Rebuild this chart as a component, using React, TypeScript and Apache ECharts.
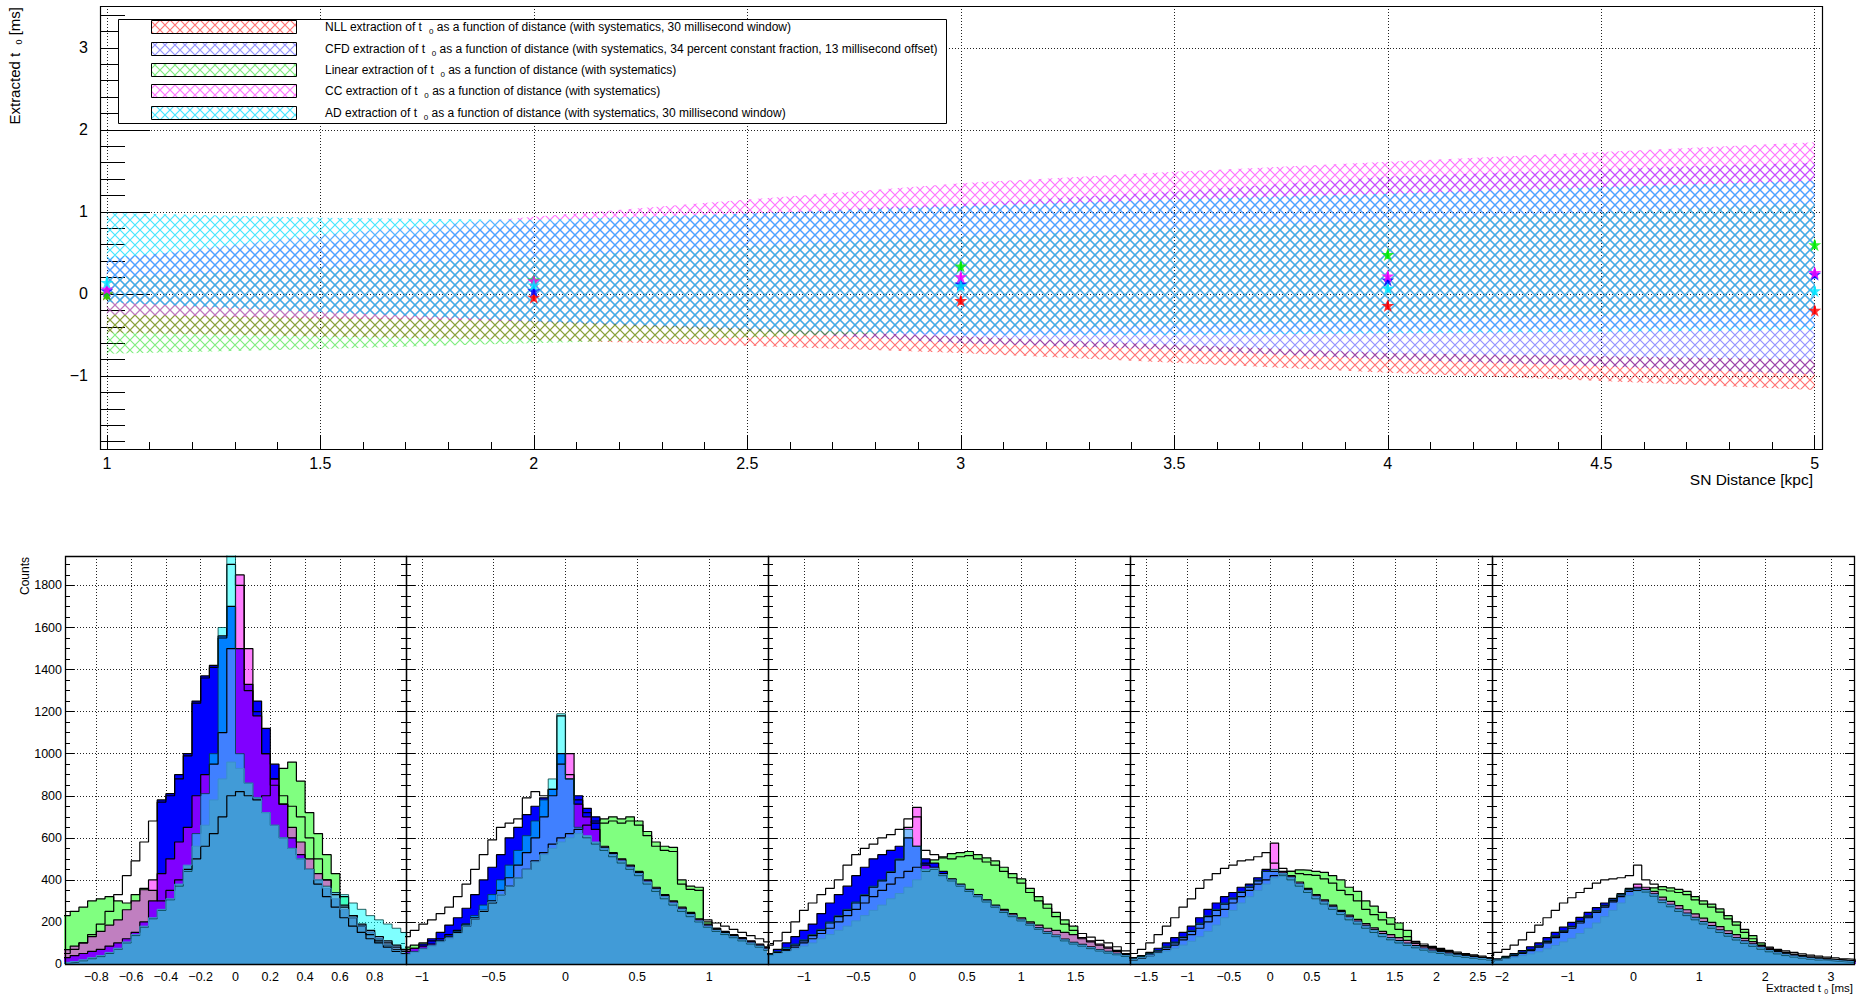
import React, { useEffect, useRef } from "react";
import * as echarts from "echarts";

// ---------------- top panel: bands (x = SN distance, kpc) ----------------
const bandX = [1, 1.5, 2, 2.5, 3, 3.5, 4, 4.5, 5];
const nllLow = [-0.47, -0.52, -0.56, -0.63, -0.72, -0.84, -0.96, -1.06, -1.17];
const nllHigh = [-0.25, -0.28, -0.32, -0.42, -0.52, -0.62, -0.72, -0.76, -0.8];
const cfdLow = [-0.1, -0.22, -0.34, -0.45, -0.6, -0.68, -0.8, -0.88, -0.98];
const cfdHigh = [0.45, 0.62, 0.85, 0.98, 1.1, 1.25, 1.43, 1.52, 1.6];
const linLow = [-0.73, -0.67, -0.6, -0.53, -0.45, -0.38, -0.32, -0.26, -0.2];
const linHigh = [0.2, 0.32, 0.45, 0.58, 0.7, 0.8, 0.9, 1.0, 1.1];
const ccLow = [-0.25, -0.3, -0.33, -0.42, -0.5, -0.48, -0.45, -0.42, -0.4];
const ccHigh = [0.42, 0.72, 0.94, 1.15, 1.35, 1.49, 1.61, 1.73, 1.85];
const adLow = [-0.1, -0.22, -0.33, -0.42, -0.5, -0.5, -0.48, -0.46, -0.44];
const adHigh = [0.99, 0.93, 0.9, 0.98, 1.07, 1.15, 1.22, 1.3, 1.38];

// ---------------- top panel: extracted points ----------------
const pointX = [1, 2, 3, 4, 5];
const nllPoints = [0.0, -0.04, -0.08, -0.14, -0.2];
const cfdPoints = [0.04, 0.04, 0.12, 0.17, 0.24];
const linPoints = [0.0, 0.17, 0.34, 0.48, 0.6];
const ccPoints = [0.06, 0.16, 0.21, 0.22, 0.26];
const adPoints = [0.14, 0.11, 0.1, 0.07, 0.04];
const pointErr = [0.07, 0.05, 0.05, 0.05, 0.05];

// ---------------- bottom panels: histograms ----------------
const padRanges = [[-0.98, 0.98], [-1.11, 1.41], [-1.33, 2.0], [-1.69, 2.67], [-2.15, 3.35]];
const padSplit = [10, 5, 7, 9, 5];
const padStart = [-1.0, -1.14, -1.36, -1.7, -2.25];
const padBin = [0.05, 0.06, 0.08, 0.1, 0.125];
const countsMax = 1940;

const pad1White = [50,70,100,140,190,250,330,420,490,580,680,770,800,880,990,1240,1360,1410,1550,1900,1800,1300,1200,1000,850,800,750,700,600,500,400,330,270,220,180,150,120,100,80,60];
const pad1Green = [230,250,270,300,310,320,300,290,330,360,350,300,350,400,450,500,560,620,700,800,820,800,780,800,880,930,960,870,720,620,520,430,320,230,180,140,110,90,70,60];
const pad1Blue = [30,40,50,60,70,85,100,120,150,200,300,780,810,900,1000,1250,1370,1420,1560,1700,1500,1330,1250,1120,950,760,600,520,450,380,320,270,220,180,150,120,100,80,60,50];
const pad1Magenta = [68,85,100,130,155,185,210,258,300,353,400,430,500,580,650,800,900,950,1100,1500,1850,1500,1180,1000,880,760,650,580,500,430,400,340,280,230,190,160,130,110,90,70];
const pad1Cyan = [5,8,15,25,35,50,70,100,135,175,215,255,305,370,440,620,810,1000,1600,2100,1000,860,790,720,660,600,550,500,450,400,370,340,330,290,260,230,210,190,170,150];
const pad1Steel = [8,12,20,30,40,55,75,105,140,180,220,260,310,380,470,560,660,780,880,960,930,860,790,720,660,600,550,500,450,400,360,310,260,220,180,150,120,90,65,45];

const pad2White = [130,160,190,210,240,270,320,380,450,520,590,650,670,690,790,820,800,830,1180,900,780,720,670,670,680,670,680,660,610,560,540,535,380,355,350,210,195,180,165,150,135,120,105];
const pad2Green = [80,90,100,110,120,140,160,190,220,250,290,330,370,410,450,490,530,570,600,620,640,660,680,690,700,690,700,680,630,580,560,555,400,370,365,200,170,150,135,120,105,90,80];
const pad2Blue = [60,75,95,120,150,185,220,265,330,400,460,520,600,650,710,750,790,830,1000,880,800,740,700,555,525,495,465,435,395,360,325,295,265,240,210,185,165,150,135,120,105,90,75];
const pad2Magenta = [70,75,85,95,110,130,150,180,215,255,300,350,410,470,530,600,700,800,950,1000,760,700,640,560,530,500,470,440,400,365,330,300,270,245,215,190,170,155,140,125,110,95,80];
const pad2Cyan = [50,60,75,90,110,130,155,190,230,280,330,400,470,540,610,680,780,880,1190,880,650,600,570,540,510,480,450,420,380,345,310,280,250,225,200,175,155,140,125,110,95,80,65];
const pad2Steel = [45,55,70,85,105,120,145,180,215,255,295,330,370,410,450,485,520,550,580,600,620,610,580,550,520,490,460,430,390,355,320,290,260,235,205,180,160,145,130,115,100,85,70];

const pad3White = [90,110,150,200,255,290,330,360,400,470,520,550,570,600,615,640,690,700,540,520,505,500,510,515,500,485,470,440,410,385,340,300,265,225,190,160,145,128,112,100,82,62];
const pad3Green = [45,55,65,80,100,120,145,170,200,230,260,290,320,350,380,410,440,460,480,495,510,525,530,535,520,505,490,460,430,405,360,320,285,245,210,180,120,105,90,75,60,45];
const pad3Blue = [50,70,100,130,160,190,240,290,330,370,420,460,500,520,540,560,600,560,500,480,440,403,378,353,328,303,278,253,233,213,193,173,153,138,118,103,93,81,69,60,51,43];
const pad3Magenta = [50,55,70,90,110,135,160,195,225,255,290,325,365,395,435,495,650,745,470,460,430,405,380,355,330,305,280,260,240,220,200,185,170,160,150,140,125,110,95,80,65,50];
const pad3Cyan = [45,60,78,95,115,140,165,200,230,260,295,330,370,400,440,500,640,560,440,450,420,395,370,345,320,295,270,245,225,205,185,165,145,130,110,95,85,73,62,52,44,36];
const pad3Steel = [40,50,60,72,85,100,120,140,160,180,205,230,255,280,310,335,365,400,450,455,425,400,375,350,325,300,275,250,230,210,190,170,150,135,115,100,90,78,66,57,48,40];

const pad4White = [50,70,100,140,180,220,270,310,360,400,430,455,470,490,495,510,530,480,455,440,430,425,421,405,385,350,330,300,260,235,210,190,165,130,108,95,84,74,65,57,50,43,37,31];
const pad4Green = [20,28,40,55,70,90,115,140,170,200,230,260,290,320,350,380,400,420,430,440,448,445,440,436,420,400,365,345,300,275,245,220,195,160,98,85,75,65,57,50,43,37,31,26];
const pad4Blue = [30,40,55,75,100,125,150,180,220,260,290,320,340,365,380,410,450,440,434,414,384,354,324,299,274,249,224,204,184,164,144,126,111,99,87,76,66,59,52,46,40,34,30,26];
const pad4Magenta = [28,35,48,62,80,100,125,155,190,225,255,285,310,340,365,395,440,575,440,420,390,360,330,305,280,255,232,212,192,172,155,140,125,112,100,88,78,68,60,52,45,38,32,27];
const pad4Cyan = [25,35,50,65,85,105,130,160,195,230,260,290,315,345,370,400,440,450,420,400,370,340,310,285,260,235,210,190,170,150,130,115,100,88,77,66,57,50,43,37,32,27,23,19];
const pad4Steel = [22,30,40,52,62,75,90,108,130,155,185,220,255,290,320,350,380,410,430,410,380,350,320,295,270,245,220,200,180,160,140,122,107,95,83,72,62,55,48,42,36,30,26,22];

const pad5White = [40,55,70,90,115,150,185,220,255,290,315,340,360,385,400,405,410,420,470,400,380,353,347,340,330,305,285,270,247,215,185,150,120,88,80,70,62,55,48,42,37,33,29,25,22];
const pad5Green = [10,18,28,40,50,64,80,100,125,150,170,195,220,245,270,295,320,345,350,355,362,368,362,355,345,320,300,285,262,230,200,165,135,100,72,60,52,44,37,31,27,23,19,16,13];
const pad5Blue = [16,25,36,50,64,82,100,125,150,175,198,222,245,268,290,312,335,360,365,354,334,304,284,262,242,222,202,182,162,144,126,110,96,82,68,58,50,42,36,31,27,23,20,17,15];
const pad5Magenta = [12,20,30,42,54,68,86,108,133,156,178,203,228,253,278,303,328,353,380,365,345,318,298,278,258,238,218,198,178,158,140,122,106,90,76,64,55,47,40,34,29,25,21,18,15];
const pad5Cyan = [14,22,32,44,56,70,88,110,135,158,180,205,230,255,280,305,330,355,360,342,322,292,272,250,230,210,190,170,150,132,114,98,84,70,58,48,40,33,28,23,19,16,13,10,8];
const pad5Steel = [12,18,24,32,40,48,58,72,88,105,122,145,170,195,225,255,290,325,345,350,330,300,280,258,238,218,198,178,158,140,122,106,92,78,64,54,46,38,32,27,23,19,16,13,11];

const padLayers = [
  [pad1White, pad1Green, pad1Blue, pad1Magenta, pad1Cyan, pad1Steel],
  [pad2White, pad2Green, pad2Blue, pad2Magenta, pad2Cyan, pad2Steel],
  [pad3White, pad3Green, pad3Blue, pad3Magenta, pad3Cyan, pad3Steel],
  [pad4White, pad4Green, pad4Blue, pad4Magenta, pad4Cyan, pad4Steel],
  [pad5White, pad5Green, pad5Blue, pad5Magenta, pad5Cyan, pad5Steel],
];

const legendNames = ["NLL", "CFD", "Linear", "CC", "AD"];
const legendSuffix = [
  "with systematics, 30 millisecond window",
  "with systematics, 34 percent constant fraction, 13 millisecond offset",
  "with systematics",
  "with systematics",
  "with systematics, 30 millisecond window",
];

// ---------------- styling / layout ----------------
const FONT = "'Liberation Sans', Arial, Helvetica, sans-serif";
const TOP = { left: 100, top: 6, width: 1722, height: 443 };
const PADS = [
  { left: 65, width: 341 },
  { left: 406, width: 362 },
  { left: 768, width: 362 },
  { left: 1130, width: 362 },
  { left: 1492, width: 362 },
];
const PAD_TOP = 556;
const PAD_H = 408;
const bandColors = [
  "rgba(255,0,0,0.55)",
  "rgba(0,0,255,0.42)",
  "rgba(0,220,0,0.5)",
  "rgba(255,0,255,0.55)",
  "rgba(0,220,255,0.72)",
];
const pointColors = ["#ff0000", "#0000ff", "#00ee00", "#ff00ff", "#00e5ff"];
const layerStyles = [
  { fill: "#ffffff", line: "#000000", w: 1.2 },
  { fill: "#80ff80", line: "#000000", w: 1.2 },
  { fill: "#0000ff", line: "#000000", w: 1.2 },
  { fill: "rgba(255,0,255,0.5)", line: "#000000", w: 1.2 },
  { fill: "rgba(0,255,255,0.5)", line: "rgba(0,60,60,0.8)", w: 1 },
  { fill: "#419bd7", line: "#3b8fca", w: 1 },
];
const STAR = "path://M50,0 L61,35 L98,35 L68,57 L79,91 L50,70 L21,91 L32,57 L2,35 L39,35 Z";

function fmt(v: number) {
  const r = Math.round(v * 1000) / 1000;
  return (r < 0 ? "\u2212" : "") + String(Math.abs(r));
}

function hatch(color: string) {
  const s = 10;
  const c = document.createElement("canvas");
  c.width = s;
  c.height = s;
  const g = c.getContext("2d")!;
  g.strokeStyle = color;
  g.lineWidth = 1.2;
  g.beginPath();
  g.moveTo(0, 0);
  g.lineTo(s, s);
  g.moveTo(s, 0);
  g.lineTo(0, s);
  g.stroke();
  return { image: c, repeat: "repeat", imageWidth: s, imageHeight: s };
}

function histData(start: number, width: number, vals: number[]) {
  const d = vals.map((v, i) => [start + i * width, v]);
  d.push([start + vals.length * width, vals[vals.length - 1]]);
  return d;
}

const dotted = { show: true, lineStyle: { color: "#222", type: [1, 2], width: 1 } };

function buildOption() {
  const patterns = bandColors.map(hatch);
  const bands = [
    [nllLow, nllHigh],
    [cfdLow, cfdHigh],
    [linLow, linHigh],
    [ccLow, ccHigh],
    [adLow, adHigh],
  ];
  const points = [nllPoints, cfdPoints, linPoints, ccPoints, adPoints];

  const series: any[] = [];

  bands.forEach(([low, high], k) => {
    series.push({
      type: "custom",
      name: legendNames[k] + " band",
      xAxisIndex: 0,
      yAxisIndex: 0,
      silent: true,
      clip: true,
      z: 1,
      encode: { x: [0, 3], y: [1, 2, 4, 5] },
      data: bandX.slice(0, -1).map((x, i) => [x, low[i], high[i], bandX[i + 1], low[i + 1], high[i + 1]]),
      renderItem: (params: any, api: any) => {
        const a = api.coord([api.value(0), api.value(1)]);
        const b = api.coord([api.value(0), api.value(2)]);
        const c = api.coord([api.value(3), api.value(5)]);
        const d = api.coord([api.value(3), api.value(4)]);
        return { type: "polygon", shape: { points: [a, b, c, d] }, style: { fill: patterns[k], stroke: null } };
      },
    });
  });

  points.forEach((pts, k) => {
    series.push({
      type: "custom",
      name: legendNames[k] + " error",
      xAxisIndex: 0,
      yAxisIndex: 0,
      silent: true,
      z: 4,
      encode: { x: 0, y: [1, 2] },
      data: pointX.map((x, i) => [x, pts[i] - pointErr[i], pts[i] + pointErr[i]]),
      renderItem: (params: any, api: any) => {
        const a = api.coord([api.value(0), api.value(1)]);
        const b = api.coord([api.value(0), api.value(2)]);
        return { type: "line", shape: { x1: a[0], y1: a[1], x2: b[0], y2: b[1] }, style: { stroke: pointColors[k], lineWidth: 2 } };
      },
    });
    series.push({
      type: "scatter",
      name: legendNames[k],
      xAxisIndex: 0,
      yAxisIndex: 0,
      clip: false,
      silent: true,
      z: 5,
      symbol: STAR,
      symbolSize: [13, 13],
      itemStyle: { color: pointColors[k] },
      data: pointX.map((x, i) => [x, pts[i]]),
    });
  });

  padLayers.forEach((layers, p) => {
    layers.forEach((vals, l) => {
      const st = layerStyles[l];
      series.push({
        type: "line",
        xAxisIndex: p + 1,
        yAxisIndex: p + 1,
        step: "end",
        symbol: "none",
        showSymbol: false,
        silent: true,
        clip: true,
        z: 2,
        lineStyle: { color: st.line, width: st.w },
        areaStyle: { color: st.fill, opacity: 1 },
        data: histData(padStart[p], padBin[p], vals),
      });
    });
  });

  const grid: any[] = [
    { left: TOP.left, top: TOP.top, width: TOP.width, height: TOP.height, show: false, containLabel: false, outerBoundsMode: "none" },
    ...PADS.map((pd) => ({ left: pd.left, top: PAD_TOP, width: pd.width, height: PAD_H, show: false, containLabel: false, outerBoundsMode: "none" })),
  ];

  const xAxis: any[] = [
    {
      type: "value",
      gridIndex: 0,
      min: 0.984,
      max: 5.017,
      splitNumber: 8,
      axisLine: { show: false, onZero: false },
      axisTick: { show: true, inside: true, length: 14, lineStyle: { color: "#000" } },
      minorTick: { show: true, splitNumber: 5, length: 7, lineStyle: { color: "#000" } },
      splitLine: dotted,
      minorSplitLine: { show: false },
      axisLabel: { show: true, showMinLabel: false, showMaxLabel: false, margin: 6, fontSize: 16, color: "#000", fontFamily: FONT, formatter: fmt },
    },
    ...PADS.map((pd, p) => ({
      type: "value",
      gridIndex: p + 1,
      min: padRanges[p][0],
      max: padRanges[p][1],
      splitNumber: padSplit[p],
      axisLine: { show: false, onZero: false },
      axisTick: { show: true, inside: true, length: 8, lineStyle: { color: "#000" } },
      minorTick: { show: true, splitNumber: 5, length: 4, lineStyle: { color: "#000" } },
      splitLine: dotted,
      axisLabel: { show: true, showMinLabel: false, showMaxLabel: false, margin: 6, fontSize: 12.5, color: "#000", fontFamily: FONT, formatter: fmt },
    })),
  ];

  const yAxis: any[] = [
    {
      type: "value",
      gridIndex: 0,
      min: -1.89,
      max: 3.51,
      splitNumber: 5,
      axisLine: { show: false, onZero: false },
      axisTick: { show: true, inside: true, length: 50, lineStyle: { color: "#000" } },
      minorTick: { show: true, splitNumber: 5, length: 25, lineStyle: { color: "#000" } },
      splitLine: dotted,
      axisLabel: { show: true, showMinLabel: false, showMaxLabel: false, margin: 12, fontSize: 16, color: "#000", fontFamily: FONT, formatter: fmt },
    },
    ...PADS.map((pd, p) => ({
      type: "value",
      gridIndex: p + 1,
      position: "left",
      min: 0,
      max: countsMax,
      splitNumber: 10,
      axisLine: { show: false, onZero: false },
      axisTick: { show: true, inside: true, length: 9, lineStyle: { color: "#000" } },
      minorTick: { show: true, splitNumber: 4, length: 5, lineStyle: { color: "#000" } },
      splitLine: dotted,
      axisLabel: { show: p === 0, showMaxLabel: false, margin: 3, fontSize: 12.5, color: "#000", fontFamily: FONT, formatter: fmt },
    })),
    ...PADS.map((pd, p) => ({
      type: "value",
      gridIndex: p + 1,
      position: "right",
      min: 0,
      max: countsMax,
      splitNumber: 10,
      axisLine: { show: false, onZero: false },
      axisTick: { show: true, inside: true, length: 9, lineStyle: { color: "#000" } },
      minorTick: { show: true, splitNumber: 4, length: 5, lineStyle: { color: "#000" } },
      splitLine: { show: false },
      axisLabel: { show: false },
    })),
  ];

  const rowY = [27, 49, 70, 91, 113];
  const subRich = {
    s: { fontSize: 8, lineHeight: 8, verticalAlign: "bottom", fontFamily: FONT, fill: "#000" },
  };
  const graphic: any[] = [
    { type: "rect", z: 100, silent: true, shape: { x: TOP.left + 0.5, y: TOP.top + 0.5, width: TOP.width, height: TOP.height }, style: { fill: "none", stroke: "#000", lineWidth: 1.2 } },
    ...PADS.map((pd) => ({ type: "rect", z: 100, silent: true, shape: { x: pd.left + 0.5, y: PAD_TOP + 0.5, width: pd.width, height: PAD_H }, style: { fill: "none", stroke: "#000", lineWidth: 1.3 } })),
    { type: "rect", z: 100, silent: true, shape: { x: 118.5, y: 19.5, width: 828, height: 104 }, style: { fill: "#fff", stroke: "#000", lineWidth: 1 } },
    ...rowY.map((y, i) => ({ type: "rect", z: 101, silent: true, shape: { x: 151.5, y: y - 6.5, width: 145, height: 13 }, style: { fill: patterns[i], stroke: "#000", lineWidth: 1 } })),
    ...rowY.map((y, i) => ({
      type: "text",
      z: 101,
      silent: true,
      x: 325,
      y,
      style: {
        text: `${legendNames[i]} extraction of t  {s|0} as a function of distance (${legendSuffix[i]})`,
        fontSize: 12,
        fontFamily: FONT,
        lineHeight: 17,
        fill: "#000",
        align: "left",
        verticalAlign: "middle",
        rich: subRich,
      },
    })),
    {
      type: "text",
      z: 101,
      silent: true,
      x: 14,
      y: 7,
      rotation: Math.PI / 2,
      style: {
        text: "Extracted t  {s|0} [ms]",
        fontSize: 15,
        fontFamily: FONT,
        lineHeight: 19,
        fill: "#000",
        align: "right",
        verticalAlign: "middle",
        rich: { s: { fontSize: 9, lineHeight: 9, verticalAlign: "bottom", fontFamily: FONT, fill: "#000" } },
      },
    },
    {
      type: "text",
      z: 101,
      silent: true,
      x: 1813,
      y: 479,
      style: { text: "SN Distance [kpc]", fontSize: 15.5, fontFamily: FONT, fill: "#000", align: "right", verticalAlign: "middle" },
    },
    {
      type: "text",
      z: 101,
      silent: true,
      x: 25,
      y: 557,
      rotation: Math.PI / 2,
      style: { text: "Counts", fontSize: 12, fontFamily: FONT, fill: "#000", align: "right", verticalAlign: "middle" },
    },
    {
      type: "text",
      z: 101,
      silent: true,
      x: 1853,
      y: 988,
      style: {
        text: "Extracted t {s|0} [ms]",
        fontSize: 11.5,
        fontFamily: FONT,
        lineHeight: 14,
        fill: "#000",
        align: "right",
        verticalAlign: "middle",
        rich: { s: { fontSize: 7, lineHeight: 7, verticalAlign: "bottom", fontFamily: FONT, fill: "#000" } },
      },
    },
  ];

  return {
    animation: false,
    backgroundColor: "#ffffff",
    grid,
    xAxis,
    yAxis,
    series,
    graphic,
  };
}

export default function App() {
  const ref = useRef<HTMLDivElement>(null);
  useEffect(() => {
    document.body.style.margin = "0";
    const chart = echarts.init(ref.current!, undefined, { renderer: "svg" });
    chart.setOption(buildOption() as any);
    return () => chart.dispose();
  }, []);
  return <div ref={ref} style={{ width: 1864, height: 997 }} />;
}
